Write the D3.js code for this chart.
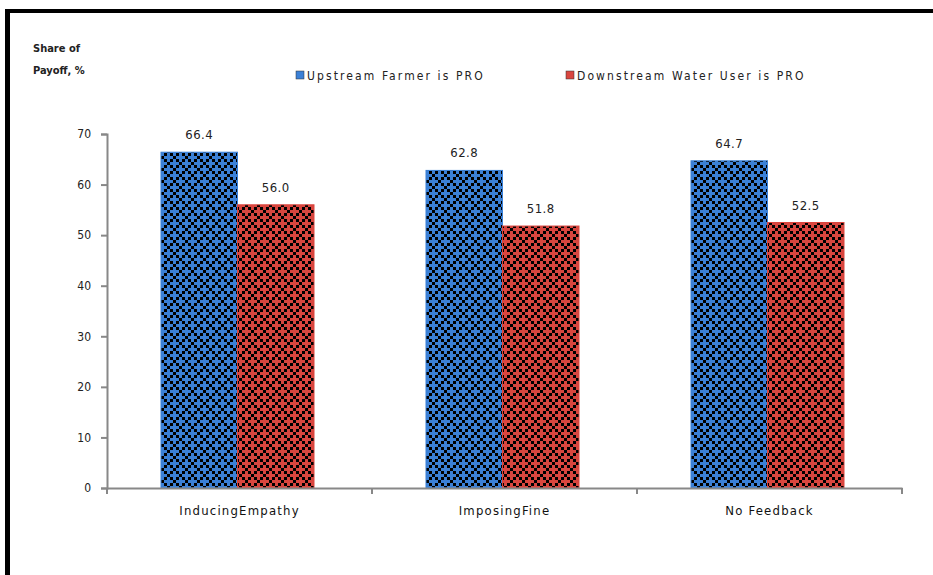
<!DOCTYPE html>
<html>
<head>
<meta charset="utf-8">
<script src="https://cdn.jsdelivr.net/npm/d3@7"></script>
<style>
  body { margin: 0; background: #fff; }
  text { font-family: "DejaVu Sans Condensed", "Liberation Sans", sans-serif; }
</style>
</head>
<body>
<div id="chart"></div>
<script>
// chart values
var categories = ["InducingEmpathy", "ImposingFine", "No Feedback"];
var seriesNames = ["Upstream Farmer is PRO", "Downstream Water User is PRO"];
var upstreamValues = [66.4, 62.8, 64.7];
var downstreamValues = [56.0, 51.8, 52.5];
var yTicks = [0, 10, 20, 30, 40, 50, 60, 70];

var width = 933, height = 575;
var colors = ["#3b80d6", "#d9463f"];

var svg = d3.select("#chart").append("svg")
    .attr("width", width)
    .attr("height", height);

// fill patterns (dotted diagonal lattice like the excel fill)
var defs = svg.append("defs");
colors.forEach(function(c, i) {
    var p = defs.append("pattern")
        .attr("id", "pat" + i)
        .attr("patternUnits", "userSpaceOnUse")
        .attr("width", 12).attr("height", 12);
    p.append("rect").attr("width", 12).attr("height", 12).attr("fill", c);
    [[0,0],[3,3],[6,6],[9,9],[9,3],[3,9]].forEach(function(d) {
        p.append("rect").attr("x", d[0]).attr("y", d[1])
            .attr("width", 3).attr("height", 3).attr("fill", "#000");
    });
});

// frame
svg.append("rect").attr("x", 5).attr("y", 9).attr("width", width - 5).attr("height", 4).attr("fill", "#000");
svg.append("rect").attr("x", 5).attr("y", 9).attr("width", 5).attr("height", height - 9).attr("fill", "#000");

var x0 = d3.scaleBand().domain(categories).range([107, 902]);
var y = d3.scaleLinear().domain([0, 70]).range([488, 134]);

var groupWidth = 153;
var x1 = d3.scaleBand().domain([0, 1]).range([0, groupWidth]);

var data = categories.map(function(c, i) {
    return { cat: c, vals: [upstreamValues[i], downstreamValues[i]] };
});

// y axis
var yAxis = svg.append("g")
    .attr("transform", "translate(107,0)")
    .call(d3.axisLeft(y).tickValues(yTicks).tickSize(6).tickPadding(10).tickFormat(d3.format("d")));
yAxis.select(".domain").attr("stroke", "#888").attr("stroke-width", 2);
yAxis.selectAll(".tick line").attr("stroke", "#888").attr("stroke-width", 2);
yAxis.selectAll(".tick text").attr("font-size", 12).attr("fill", "#222")
    .style("font-family", "'DejaVu Sans Condensed', sans-serif");

// bars
var groups = svg.selectAll(".grp").data(data).enter().append("g")
    .attr("transform", function(d) { return "translate(" + (x0(d.cat) + (x0.bandwidth() - groupWidth) / 2 - 2) + ",0)"; });

groups.selectAll("rect").data(function(d) { return d.vals; }).enter().append("rect")
    .attr("x", function(d, i) { return x1(i); })
    .attr("y", function(d) { return y(d); })
    .attr("width", x1.bandwidth())
    .attr("height", function(d) { return y(0) - y(d); })
    .attr("fill", function(d, i) { return "url(#pat" + i + ")"; })
    .attr("stroke", function(d, i) { return colors[i]; })
    .attr("stroke-width", 1);

groups.selectAll(".lbl").data(function(d) { return d.vals; }).enter().append("text")
    .attr("x", function(d, i) { return x1(i) + x1.bandwidth() / 2; })
    .attr("y", function(d) { return y(d) - 13; })
    .attr("text-anchor", "middle")
    .attr("font-size", 13)
    .attr("letter-spacing", 0.5)
    .attr("fill", "#222")
    .text(function(d) { return d.toFixed(1); });

// x axis
var xAxis = svg.append("g")
    .attr("transform", "translate(0,488)")
    .call(d3.axisBottom(x0).tickSize(0).tickPadding(18));
xAxis.select(".domain").attr("stroke", "#888").attr("stroke-width", 2);
xAxis.selectAll(".tick text").attr("font-size", 13).attr("fill", "#111")
    .attr("letter-spacing", 1.2)
    .style("font-family", "'DejaVu Sans Condensed', sans-serif");
xAxis.selectAll(".bnd").data([107].concat(categories.map(function(c) { return x0(c) + x0.bandwidth(); })))
    .enter().append("line")
    .attr("x1", function(d) { return d; }).attr("x2", function(d) { return d; })
    .attr("y1", 0).attr("y2", 6)
    .attr("stroke", "#888").attr("stroke-width", 2);

// y title
svg.append("text").attr("x", 33).attr("y", 52).attr("font-size", 11).attr("font-weight", "bold").attr("fill", "#222").text("Share of");
svg.append("text").attr("x", 33).attr("y", 74).attr("font-size", 11).attr("font-weight", "bold").attr("fill", "#222").text("Payoff, %");

// legend
var legendX = [296, 566];
seriesNames.forEach(function(s, i) {
    svg.append("rect").attr("x", legendX[i]).attr("y", 71).attr("width", 8).attr("height", 8)
        .attr("fill", colors[i]).attr("stroke", "#333").attr("stroke-width", 0.5);
    svg.append("text").attr("x", legendX[i] + 11).attr("y", 80).attr("font-size", 12)
        .attr("letter-spacing", 2.1)
        .attr("fill", "#222").text(s);
});
</script>
</body>
</html>
